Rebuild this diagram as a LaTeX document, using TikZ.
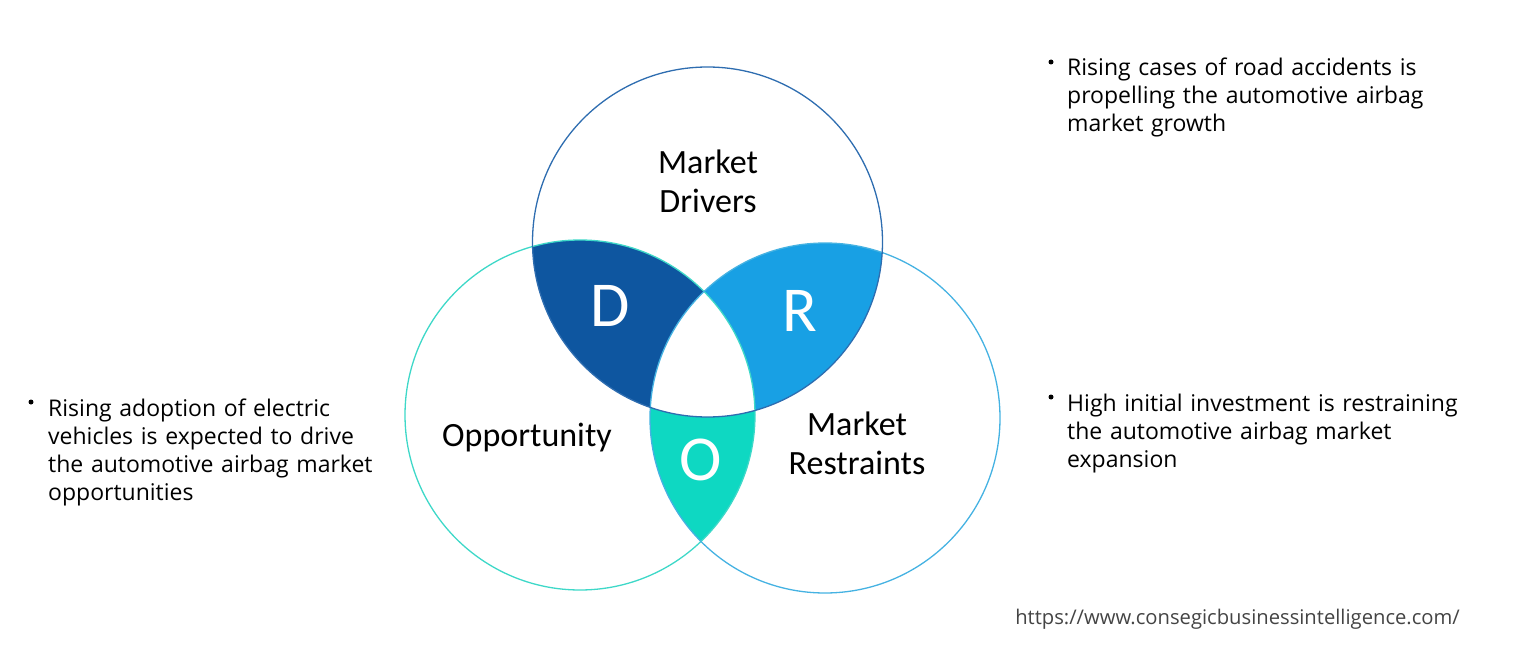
\documentclass[tikz,border=0pt]{standalone}
\usepackage{fontspec}
\setmainfont{Open Sans}
\newfontfamily\calib{Carlito}
\definecolor{topc}{HTML}{2E6DB0}
\definecolor{leftc}{HTML}{3ED8C8}
\definecolor{rightc}{HTML}{45B2E2}
\definecolor{Dfill}{HTML}{0E56A0}
\definecolor{Rfill}{HTML}{18A0E4}
\definecolor{Ofill}{HTML}{0ED8C2}
\definecolor{urlc}{HTML}{444444}
\begin{document}
\begin{tikzpicture}[x=1pt,y=-1pt,
  lab/.style={font=\calib\fontsize{34}{39}\selectfont, align=center, text=black},
  big/.style={font=\calib\fontsize{64}{70}\selectfont, text=white},
  bul/.style={font=\fontsize{23}{28}\selectfont, align=left, anchor=north west, inner sep=0pt, text width=420pt},
  dot/.style={circle, fill=black, inner sep=0pt, minimum size=5pt}]
\useasboundingbox (0,0) rectangle (1515,660);
\coordinate (T) at (707.5,242);
\coordinate (L) at (580,415);
\coordinate (Rc) at (825,418);
\def\rr{175pt}
% fills
\begin{scope}\clip (T) circle[radius=\rr]; \fill[Dfill] (L) circle[radius=\rr];\end{scope}
\begin{scope}\clip (T) circle[radius=\rr]; \fill[Rfill] (Rc) circle[radius=\rr];\end{scope}
\begin{scope}\clip (L) circle[radius=\rr]; \fill[Ofill] (Rc) circle[radius=\rr];\end{scope}
\begin{scope}\clip (T) circle[radius=\rr]; \clip (L) circle[radius=\rr]; \fill[white] (Rc) circle[radius=\rr];\end{scope}
% outlines
\draw[leftc, line width=1.3pt] (L) circle[radius=\rr];
\draw[rightc, line width=1.3pt] (Rc) circle[radius=\rr];
\draw[topc, line width=1.3pt] (T) circle[radius=\rr];
% labels
\node[lab] (md) at (708,181) {Market\\Drivers};
\node[lab] (op) at (527,438) {Opportunity};
\node[lab] (mr) at (857,443) {Market\\Restraints};
\node[big] (D) at (610,306) {D};
\node[big] (R) at (800,311) {R};
\node[big] (O) at (701,460) {O};
% bullets
\node[dot] (b1) at (1051,62) {};
\node[bul] (t1) at (1067,58) {Rising cases of road accidents is\\propelling the automotive airbag\\market growth};
\node[dot] (b2) at (1051,397) {};
\node[bul] (t2) at (1067,394) {High initial investment is restraining\\the automotive airbag market\\expansion};
\node[dot] (b3) at (31,402) {};
\node[bul] (t3) at (48,399) {Rising adoption of electric\\vehicles is expected to drive\\the automotive airbag market\\opportunities};
\node[anchor=east, font=\fontsize{20.2}{24}\selectfont, text=urlc, inner sep=0pt] (url) at (1460,619) {https://www.consegicbusinessintelligence.com/};
\end{tikzpicture}
\end{document}
